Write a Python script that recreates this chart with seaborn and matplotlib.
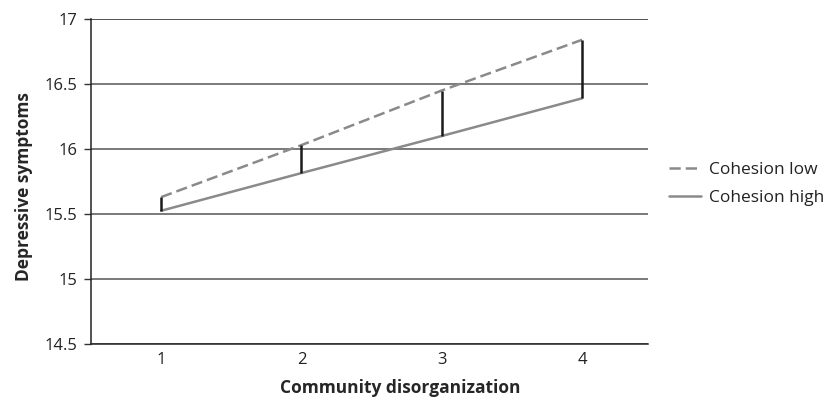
import matplotlib
matplotlib.use("Agg")
import matplotlib.pyplot as plt
import seaborn as sns
import pandas as pd

x_values = [1, 2, 3, 4]
cohesion_low = [15.63, 16.03, 16.45, 16.84]
cohesion_high = [15.525, 15.815, 16.10, 16.39]
series_names = ["Cohesion low", "Cohesion high"]
y_ticks = [14.5, 15, 15.5, 16, 16.5, 17]
y_tick_labels = ["14.5", "15", "15.5", "16", "16.5", "17"]

df = pd.DataFrame({
    "x": x_values * 2,
    "y": cohesion_low + cohesion_high,
    "group": [series_names[0]] * 4 + [series_names[1]] * 4,
})

sns.set_style("white")
plt.rcParams["font.family"] = ["Open Sans", "DejaVu Sans"]

fig = plt.figure(figsize=(8.32, 3.98), dpi=100)
ax = fig.add_axes([91 / 832, 1 - 344 / 398, 557 / 832, 325 / 398])

for yv in y_ticks:
    color = "#222222" if yv == 17 else "#555555"
    ax.axhline(yv, color=color, lw=1.1, zorder=0)

sns.lineplot(data=df, x="x", y="y", hue="group", style="group",
             palette={series_names[0]: "#8a8a8a", series_names[1]: "#8a8a8a"},
             dashes={series_names[0]: (4.5, 2.0), series_names[1]: ""},
             linewidth=1.8, ax=ax, legend=True, zorder=2)

ax.vlines(x_values, cohesion_high, cohesion_low, color="#1a1a1a", lw=1.8, zorder=3)

ax.set_xlim(0.5, 4.47)
ax.set_ylim(14.5, 17)
ax.set_xticks(x_values)
ax.set_xticklabels([str(v) for v in x_values], fontsize=12, color="#222222")
ax.set_yticks(y_ticks)
ax.set_yticklabels(y_tick_labels, fontsize=12, color="#222222")
ax.tick_params(axis="y", length=5, width=1, color="#333333", direction="out", pad=5, left=True)
ax.tick_params(axis="x", length=0, pad=6)

for s in ["top", "right"]:
    ax.spines[s].set_visible(False)
for s in ["left", "bottom"]:
    ax.spines[s].set_color("#222222")
    ax.spines[s].set_linewidth(1.1)

ax.set_xlabel("Community disorganization", fontsize=12.5, fontweight="bold", va="center")
ax.xaxis.set_label_coords((400 - 91) / 557, (344 - 388) / 325)
ax.set_ylabel("Depressive symptoms", fontsize=12.5, fontweight="bold", va="center")
ax.yaxis.set_label_coords((24 - 91) / 557, (344 - 187) / 325)

handles, labels = ax.get_legend_handles_labels()
leg = ax.legend(handles, labels, loc="upper left",
                bbox_to_anchor=((669 - 91) / 557, (344 - 162) / 325),
                frameon=False, fontsize=12.5, handlelength=1.85, handletextpad=0.45,
                labelspacing=0.65, borderaxespad=0, borderpad=0)
for t in leg.get_texts():
    t.set_color("#222222")

fig.savefig("out.png", dpi=100)
